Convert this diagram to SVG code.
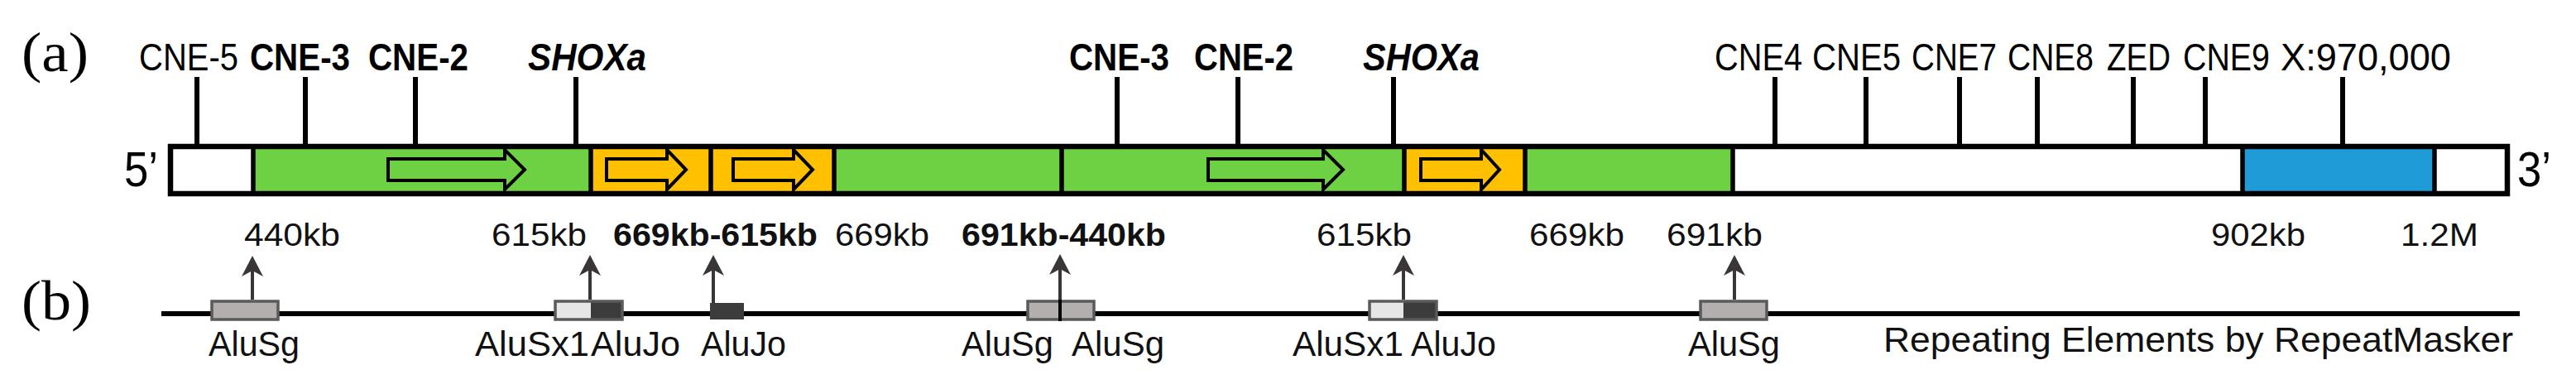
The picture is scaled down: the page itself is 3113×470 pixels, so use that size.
<svg xmlns="http://www.w3.org/2000/svg" width="3113" height="470" viewBox="0 0 3113 470">
<style>
.lbl{font-family:"Liberation Sans",Arial,sans-serif;fill:#000}
.top{font-size:46px}
.b{font-weight:bold}
.bi{font-weight:bold;font-style:italic}
.kb{font-size:38px;fill:#111}
.alu{font-size:42px;fill:#111}
.panel{font-family:"Liberation Serif","Times New Roman",serif;font-size:68px;fill:#000}
.end{font-family:"Liberation Sans",Arial,sans-serif;font-size:60px;fill:#000}
.tick{stroke:#000;stroke-width:6}
.div{stroke:#000;stroke-width:5.5}
.g{fill:#6dd143}
.o{fill:#ffc000}
.w{fill:#fff}
.bl{fill:#1f9cd8}
.garr{fill:#6dd143;stroke:#000;stroke-width:4;stroke-linejoin:miter}
.oarr{fill:#ffc000;stroke:#000;stroke-width:4;stroke-linejoin:miter}
.rbox{fill:#b3afaf;stroke:#5a5a5a;stroke-width:3.5}
.lt{fill:#e6e6e6}
.dk{fill:#3c3c3c}
.shaft{stroke:#3a3536;stroke-width:4}
.head{fill:#3a3536}
</style>

<g id="panel-labels">
<text class="panel" x="26" y="86" textLength="81" lengthAdjust="spacingAndGlyphs">(a)</text>
<text class="panel" x="26" y="386" textLength="84" lengthAdjust="spacingAndGlyphs">(b)</text>
</g>

<g id="bar">
<rect class="w" x="206" y="177" width="100" height="57"/>
<rect class="g" x="306" y="177" width="408" height="57"/>
<rect class="o" x="714" y="177" width="145" height="57"/>
<rect class="o" x="859" y="177" width="149" height="57"/>
<rect class="g" x="1008" y="177" width="275" height="57"/>
<rect class="g" x="1283" y="177" width="414" height="57"/>
<rect class="o" x="1697" y="177" width="146" height="57"/>
<rect class="g" x="1843" y="177" width="251" height="57"/>
<rect class="w" x="2094" y="177" width="616" height="57"/>
<rect class="bl" x="2710" y="177" width="232" height="57"/>
<rect class="w" x="2942" y="177" width="88" height="57"/>
<polygon class="garr" points="469,192 610,192 610,181 634,205 610,229 610,218 469,218"/>
<polygon class="oarr" points="733,192 806,192 806,181 829,205 806,229 806,218 733,218"/>
<polygon class="oarr" points="886,192 959,192 959,181 982,205 959,229 959,218 886,218"/>
<polygon class="garr" points="1460,192 1599,192 1599,181 1623,205 1599,229 1599,218 1460,218"/>
<polygon class="oarr" points="1717,192 1790,192 1790,181 1812,205 1790,229 1790,218 1717,218"/>
<line class="div" x1="306" y1="177" x2="306" y2="234"/>
<line class="div" x1="714" y1="177" x2="714" y2="234"/>
<line class="div" x1="859" y1="177" x2="859" y2="234"/>
<line class="div" x1="1008" y1="177" x2="1008" y2="234"/>
<line class="div" x1="1283" y1="177" x2="1283" y2="234"/>
<line class="div" x1="1697" y1="177" x2="1697" y2="234"/>
<line class="div" x1="1843" y1="177" x2="1843" y2="234"/>
<line class="div" x1="2094" y1="177" x2="2094" y2="234"/>
<line class="div" x1="2710" y1="177" x2="2710" y2="234"/>
<line class="div" x1="2942" y1="177" x2="2942" y2="234"/>
<rect x="206" y="177" width="2824" height="57" fill="none" stroke="#000" stroke-width="6.5"/>
<text class="end" x="150" y="225" textLength="41" lengthAdjust="spacingAndGlyphs">5’</text>
<text class="end" x="3042" y="225" textLength="41" lengthAdjust="spacingAndGlyphs">3’</text>
</g>

<g id="ticks">
<line class="tick" x1="238" y1="93" x2="238" y2="177"/>
<line class="tick" x1="369" y1="93" x2="369" y2="177"/>
<line class="tick" x1="502" y1="93" x2="502" y2="177"/>
<line class="tick" x1="696" y1="93" x2="696" y2="177"/>
<line class="tick" x1="1350" y1="93" x2="1350" y2="177"/>
<line class="tick" x1="1496" y1="93" x2="1496" y2="177"/>
<line class="tick" x1="1684" y1="93" x2="1684" y2="177"/>
<line class="tick" x1="2145" y1="93" x2="2145" y2="177"/>
<line class="tick" x1="2255" y1="93" x2="2255" y2="177"/>
<line class="tick" x1="2368" y1="93" x2="2368" y2="177"/>
<line class="tick" x1="2462" y1="93" x2="2462" y2="177"/>
<line class="tick" x1="2578" y1="93" x2="2578" y2="177"/>
<line class="tick" x1="2665" y1="93" x2="2665" y2="177"/>
<line class="tick" x1="2831" y1="93" x2="2831" y2="177"/>
</g>

<g id="top-labels">
<text class="lbl top" x="168" y="85" textLength="120" lengthAdjust="spacingAndGlyphs">CNE-5</text>
<text class="lbl top b" x="302" y="85" textLength="121" lengthAdjust="spacingAndGlyphs">CNE-3</text>
<text class="lbl top b" x="445" y="85" textLength="121" lengthAdjust="spacingAndGlyphs">CNE-2</text>
<text class="lbl top bi" x="638" y="85" textLength="143" lengthAdjust="spacingAndGlyphs">SHOXa</text>
<text class="lbl top b" x="1292" y="85" textLength="121" lengthAdjust="spacingAndGlyphs">CNE-3</text>
<text class="lbl top b" x="1443" y="85" textLength="120" lengthAdjust="spacingAndGlyphs">CNE-2</text>
<text class="lbl top bi" x="1647" y="85" textLength="141" lengthAdjust="spacingAndGlyphs">SHOXa</text>
<text class="lbl top" x="2072" y="85" textLength="106" lengthAdjust="spacingAndGlyphs">CNE4</text>
<text class="lbl top" x="2190" y="85" textLength="107" lengthAdjust="spacingAndGlyphs">CNE5</text>
<text class="lbl top" x="2310" y="85" textLength="103" lengthAdjust="spacingAndGlyphs">CNE7</text>
<text class="lbl top" x="2426" y="85" textLength="104" lengthAdjust="spacingAndGlyphs">CNE8</text>
<text class="lbl top" x="2546" y="85" textLength="77" lengthAdjust="spacingAndGlyphs">ZED</text>
<text class="lbl top" x="2638" y="85" textLength="105" lengthAdjust="spacingAndGlyphs">CNE9</text>
<text class="lbl top" x="2756" y="85" textLength="206" lengthAdjust="spacingAndGlyphs">X:970,000</text>
</g>

<g id="position-labels">
<text class="lbl kb" x="295" y="297" textLength="116" lengthAdjust="spacingAndGlyphs">440kb</text>
<text class="lbl kb" x="594" y="297" textLength="115" lengthAdjust="spacingAndGlyphs">615kb</text>
<text class="lbl kb b" x="741" y="297" textLength="247" lengthAdjust="spacingAndGlyphs">669kb-615kb</text>
<text class="lbl kb" x="1009" y="297" textLength="114" lengthAdjust="spacingAndGlyphs">669kb</text>
<text class="lbl kb b" x="1162" y="297" textLength="247" lengthAdjust="spacingAndGlyphs">691kb-440kb</text>
<text class="lbl kb" x="1591" y="297" textLength="115" lengthAdjust="spacingAndGlyphs">615kb</text>
<text class="lbl kb" x="1848" y="297" textLength="115" lengthAdjust="spacingAndGlyphs">669kb</text>
<text class="lbl kb" x="2014" y="297" textLength="116" lengthAdjust="spacingAndGlyphs">691kb</text>
<text class="lbl kb" x="2672" y="297" textLength="114" lengthAdjust="spacingAndGlyphs">902kb</text>
<text class="lbl kb" x="2901" y="297" textLength="94" lengthAdjust="spacingAndGlyphs">1.2M</text>
</g>

<g id="track">
<line x1="195" y1="379" x2="3045" y2="379" stroke="#000" stroke-width="6"/>
</g>

<g id="repeat-1">
<rect class="rbox" x="256" y="364" width="80" height="22"/>
<text class="lbl alu" x="252" y="430" textLength="110" lengthAdjust="spacingAndGlyphs">AluSg</text>
</g>
<g id="repeat-2">
<rect class="lt" x="671" y="364" width="43" height="22"/>
<rect class="dk" x="714" y="364" width="38" height="22"/>
<rect x="671" y="364" width="81" height="22" fill="none" stroke="#5a5a5a" stroke-width="3.5"/>
<text class="lbl alu" x="574" y="430" textLength="138" lengthAdjust="spacingAndGlyphs">AluSx1</text>
<text class="lbl alu" x="714" y="430" textLength="108" lengthAdjust="spacingAndGlyphs">AluJo</text>
</g>
<g id="repeat-3">
<rect class="dk" x="858" y="366" width="41" height="20"/>
<text class="lbl alu" x="847" y="430" textLength="103" lengthAdjust="spacingAndGlyphs">AluJo</text>
</g>
<g id="repeat-4">
<rect class="rbox" x="1242" y="364" width="80" height="22"/>
<line x1="1281" y1="362" x2="1281" y2="388" stroke="#000" stroke-width="4"/>
<text class="lbl alu" x="1162" y="430" textLength="111" lengthAdjust="spacingAndGlyphs">AluSg</text>
<text class="lbl alu" x="1295" y="430" textLength="112" lengthAdjust="spacingAndGlyphs">AluSg</text>
</g>
<g id="repeat-5">
<rect class="lt" x="1655" y="364" width="41" height="22"/>
<rect class="dk" x="1696" y="364" width="40" height="22"/>
<rect x="1655" y="364" width="81" height="22" fill="none" stroke="#5a5a5a" stroke-width="3.5"/>
<text class="lbl alu" x="1562" y="430" textLength="134" lengthAdjust="spacingAndGlyphs">AluSx1</text>
<text class="lbl alu" x="1705" y="430" textLength="103" lengthAdjust="spacingAndGlyphs">AluJo</text>
</g>
<g id="repeat-6">
<rect class="rbox" x="2055" y="364" width="80" height="22"/>
<text class="lbl alu" x="2040" y="430" textLength="111" lengthAdjust="spacingAndGlyphs">AluSg</text>
</g>
<g id="legend">
<text class="lbl alu" x="2276" y="425" textLength="761" lengthAdjust="spacingAndGlyphs">Repeating Elements by RepeatMasker</text>
</g>

<g id="connectors">
<line class="shaft" x1="305" y1="362" x2="305" y2="325"/>
<polygon class="head" points="305,309 292,334 305,327 318,334"/>
<line class="shaft" x1="713" y1="362" x2="713" y2="325"/>
<polygon class="head" points="713,308 700,333 713,326 726,333"/>
<line class="shaft" x1="862" y1="366" x2="862" y2="325"/>
<polygon class="head" points="862,308 849,333 862,326 875,333"/>
<line class="shaft" x1="1281" y1="362" x2="1281" y2="325"/>
<polygon class="head" points="1281,307 1268,332 1281,325 1294,332"/>
<line class="shaft" x1="1696" y1="362" x2="1696" y2="325"/>
<polygon class="head" points="1696,308 1683,333 1696,326 1709,333"/>
<line class="shaft" x1="2096" y1="362" x2="2096" y2="325"/>
<polygon class="head" points="2096,308 2083,333 2096,326 2109,333"/>
</g>
</svg>
